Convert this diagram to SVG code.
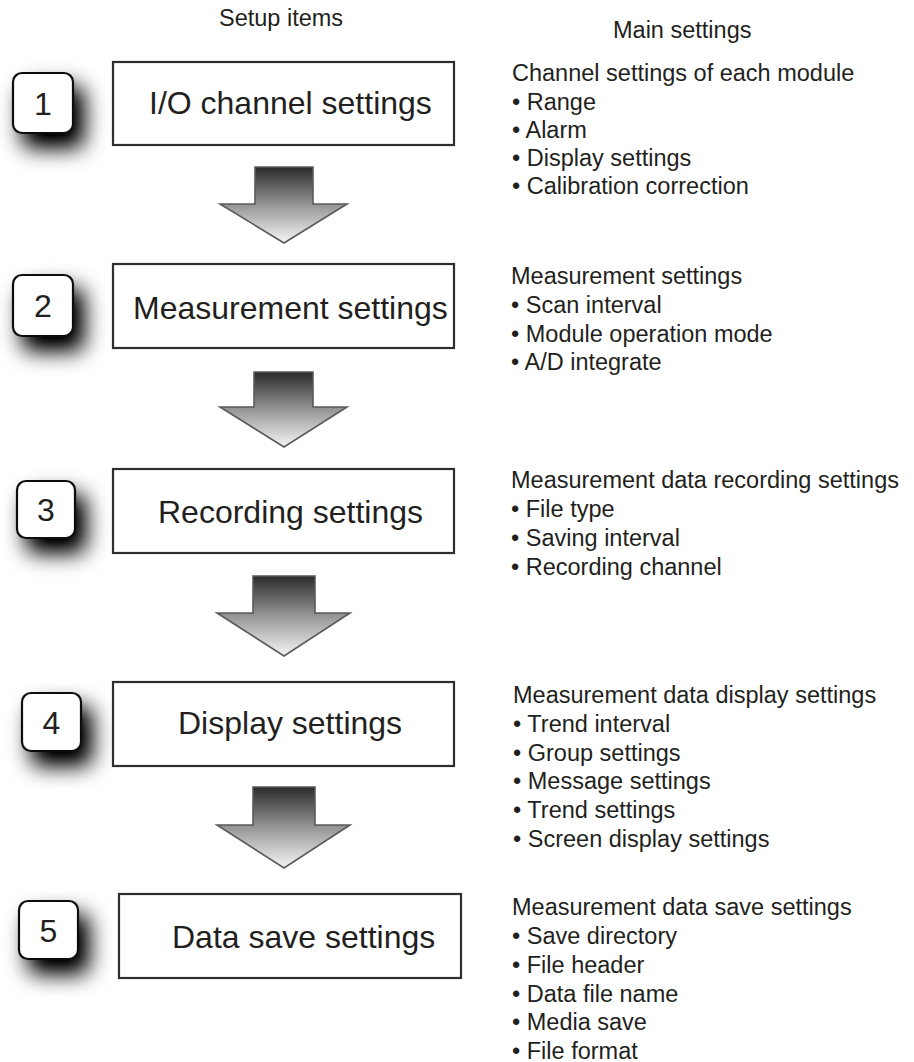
<svg xmlns="http://www.w3.org/2000/svg" width="914" height="1062" viewBox="0 0 914 1062">
<style>
  text { font-family: "Liberation Sans", Arial, Helvetica, sans-serif; fill: #231f20; }
  .hdr { font-size: 23.5px; }
  .item { font-size: 23.5px; }
  .big { font-size: 32px; }
  .num { font-size: 32px; text-anchor: middle; }
  .box { fill: #ffffff; stroke: #2e2e2e; stroke-width: 2.2; }
  .nbox { fill: #ffffff; stroke: #111111; stroke-width: 2.2; }
  .arrow { fill: url(#arrowGrad); stroke: #5a5a5a; stroke-width: 1.6; stroke-linejoin: miter; }
</style>
<defs>
  <linearGradient id="arrowGrad" x1="0" y1="0" x2="0" y2="1">
    <stop offset="0" stop-color="#2a2a2a"/>
    <stop offset="0.45" stop-color="#8c8c8c"/>
    <stop offset="1" stop-color="#f6f6f6"/>
  </linearGradient>
  <filter id="shadow" x="-80%" y="-80%" width="280%" height="280%">
    <feGaussianBlur in="SourceAlpha" stdDeviation="11"/>
    <feOffset dx="10" dy="14" result="b"/>
    <feComponentTransfer><feFuncA type="linear" slope="1.1"/></feComponentTransfer>
    <feMerge><feMergeNode/><feMergeNode in="SourceGraphic"/></feMerge>
  </filter>
</defs>
<rect width="914" height="1062" fill="#ffffff"/>

<g id="headers">
  <text class="hdr" x="219" y="26">Setup items</text>
  <text class="hdr" x="613" y="38">Main settings</text>
</g>

<g id="connectors">
  <path class="arrow" d="M255,167 H313 V204 H347 L284,243 L220,204 H255 Z"/>
  <path class="arrow" d="M254,372 H313 V407 H347 L284,447 L220,407 H254 Z"/>
  <path class="arrow" d="M253,576 H315 V613 H350 L284,656 L217,613 H253 Z"/>
  <path class="arrow" d="M253,787 H315 V825 H350 L284,868 L217,825 H253 Z"/>
</g>

<g id="step1">
  <rect class="nbox" x="13" y="73" width="60" height="60" rx="9" filter="url(#shadow)"/>
  <text class="num" x="43" y="115">1</text>
  <rect class="box" x="113" y="62" width="341" height="83"/>
  <text class="big" x="149" y="114">I/O channel settings</text>
</g>
<g id="settings1">
  <text class="item" x="512" y="81">Channel settings of each module</text>
  <text class="item" x="512" y="109.5">• Range</text>
  <text class="item" x="512" y="137.5">• Alarm</text>
  <text class="item" x="512" y="166">• Display settings</text>
  <text class="item" x="512" y="194">• Calibration correction</text>
</g>

<g id="step2">
  <rect class="nbox" x="13" y="275" width="60" height="61" rx="9" filter="url(#shadow)"/>
  <text class="num" x="43" y="317">2</text>
  <rect class="box" x="113" y="264" width="341" height="84"/>
  <text class="big" x="133" y="319">Measurement settings</text>
</g>
<g id="settings2">
  <text class="item" x="511" y="284">Measurement settings</text>
  <text class="item" x="511" y="313">• Scan interval</text>
  <text class="item" x="511" y="341.5">• Module operation mode</text>
  <text class="item" x="511" y="370">• A/D integrate</text>
</g>

<g id="step3">
  <rect class="nbox" x="17" y="481" width="58" height="57" rx="9" filter="url(#shadow)"/>
  <text class="num" x="46" y="521">3</text>
  <rect class="box" x="113" y="469" width="341" height="84"/>
  <text class="big" x="158" y="523">Recording settings</text>
</g>
<g id="settings3">
  <text class="item" x="511" y="488">Measurement data recording settings</text>
  <text class="item" x="511" y="517">• File type</text>
  <text class="item" x="511" y="546">• Saving interval</text>
  <text class="item" x="511" y="574.5">• Recording channel</text>
</g>

<g id="step4">
  <rect class="nbox" x="22" y="693" width="59" height="58" rx="9" filter="url(#shadow)"/>
  <text class="num" x="51.5" y="733.5">4</text>
  <rect class="box" x="113" y="682" width="341" height="84"/>
  <text class="big" x="178" y="734">Display settings</text>
</g>
<g id="settings4">
  <text class="item" x="513" y="703">Measurement data display settings</text>
  <text class="item" x="513" y="732">• Trend interval</text>
  <text class="item" x="513" y="760.5">• Group settings</text>
  <text class="item" x="513" y="789">• Message settings</text>
  <text class="item" x="513" y="818">• Trend settings</text>
  <text class="item" x="513" y="846.5">• Screen display settings</text>
</g>

<g id="step5">
  <rect class="nbox" x="19" y="901" width="59" height="58" rx="9" filter="url(#shadow)"/>
  <text class="num" x="48.5" y="941.5">5</text>
  <rect class="box" x="119" y="894" width="342" height="84"/>
  <text class="big" x="172" y="948">Data save settings</text>
</g>
<g id="settings5">
  <text class="item" x="512" y="915">Measurement data save settings</text>
  <text class="item" x="512" y="944">• Save directory</text>
  <text class="item" x="512" y="972.5">• File header</text>
  <text class="item" x="512" y="1001.5">• Data file name</text>
  <text class="item" x="512" y="1030">• Media save</text>
  <text class="item" x="512" y="1058.5">• File format</text>
</g>
</svg>
